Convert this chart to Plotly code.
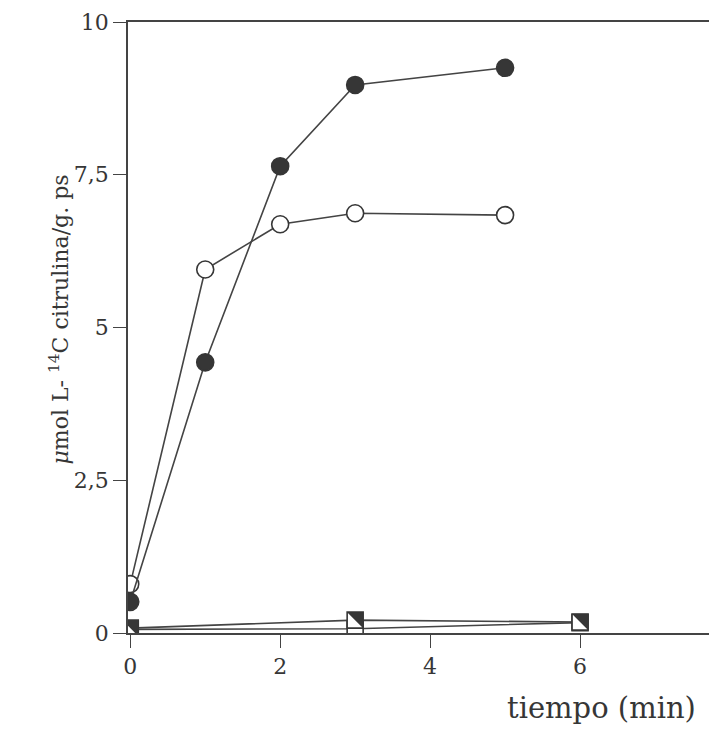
import plotly.graph_objects as go

t_circ = [0, 1, 2, 3, 5]
filled_circ = [0.51, 4.43, 7.64, 8.97, 9.25]
open_circ = [0.80, 5.95, 6.69, 6.87, 6.84]
t_sq = [0, 3, 6]
half_sq = [0.08, 0.21, 0.18]
open_sq = [0.06, 0.07, 0.17]

x_ticks = [0, 2, 4, 6]
x_labels = ["0", "2", "4", "6"]
y_ticks = [0, 2.5, 5, 7.5, 10]
y_labels = ["0", "2,5", "5", "7,5", "10"]

ink = "#363636"
line = dict(color="#444444", width=1.6)
fnt = "DejaVu Serif"
SQ = 16  # marker size of squares (px)

fig = go.Figure()
fig.add_trace(go.Scatter(x=t_sq, y=open_sq, mode="lines+markers", line=line,
                         marker=dict(symbol="square", size=SQ, color="white",
                                     line=dict(color=ink, width=1.6))))
fig.add_trace(go.Scatter(x=t_sq, y=half_sq, mode="lines+markers", line=line,
                         marker=dict(symbol="square", size=SQ, color="white",
                                     line=dict(color=ink, width=1.6))))
fig.add_trace(go.Scatter(x=t_circ, y=open_circ, mode="lines+markers", line=line,
                         marker=dict(symbol="circle", size=17, color="white",
                                     line=dict(color=ink, width=1.6))))
fig.add_trace(go.Scatter(x=t_circ, y=filled_circ, mode="lines+markers", line=line,
                         marker=dict(symbol="circle", size=17, color=ink,
                                     line=dict(color=ink, width=1.6))))

# filled upper-right half of the half-filled squares
h = SQ / 2
for tx, vy in zip(t_sq, half_sq):
    fig.add_shape(type="path", xref="x", yref="y", xsizemode="pixel",
                  ysizemode="pixel", xanchor=tx, yanchor=vy,
                  path=f"M {-h} {h} L {h} {h} L {h} {-h} Z",
                  fillcolor=ink, line=dict(width=0), layer="above")

fig.update_layout(
    width=709, height=733,
    margin=dict(l=128, r=0, t=22, b=100),
    paper_bgcolor="white", plot_bgcolor="white",
    showlegend=False,
    font=dict(family=fnt, color=ink, size=22),
    xaxis=dict(range=[-0.03, 7.72], tickvals=x_ticks, ticktext=x_labels,
               showgrid=False, zeroline=False, showline=True, linecolor="#444",
               linewidth=1.5, mirror=True, ticks="outside", ticklen=13,
               tickwidth=1.3, tickcolor="#444",
               tickfont=dict(family=fnt, size=22, color=ink)),
    yaxis=dict(range=[0, 10], tickvals=y_ticks, ticktext=y_labels,
               showgrid=False, zeroline=False, showline=True, linecolor="#444",
               linewidth=1.5, ticks="outside", ticklen=13, tickwidth=1.3,
               tickcolor="#444",
               tickfont=dict(family=fnt, size=22, color=ink)),
    annotations=[
        dict(text="tiempo (min)", xref="paper", yref="paper", x=1, y=0,
             xanchor="right", yanchor="top", yshift=-56, xshift=-11,
             showarrow=False, font=dict(family=fnt, size=29, color=ink)),
        dict(text="<i>μ</i>mol L- <sup>14</sup>C citrulina/g. ps", xref="paper",
             yref="paper", x=0, y=0.5, xanchor="center", yanchor="middle",
             xshift=-70, yshift=8, textangle=-90, showarrow=False,
             font=dict(family=fnt, size=22, color=ink)),
    ],
)

fig.write_html("out.html", config={"displayModeBar": False},
               post_script="document.body.style.margin='0';")
